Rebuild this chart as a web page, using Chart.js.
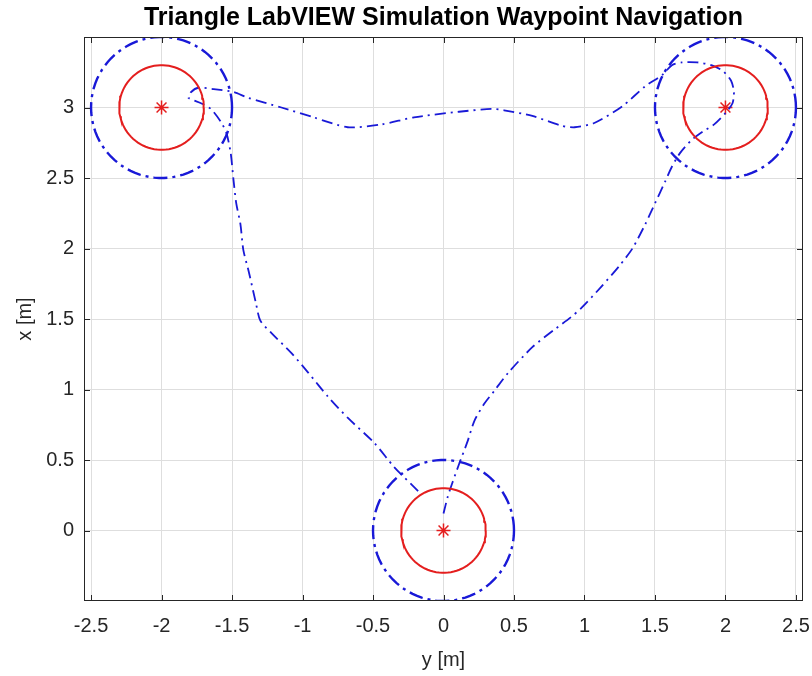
<!DOCTYPE html>
<html>
<head>
<meta charset="utf-8">
<title>Triangle LabVIEW Simulation Waypoint Navigation</title>
<script src="https://cdn.jsdelivr.net/npm/chart.js@4.4.1/dist/chart.umd.min.js"></script>
<style>
    body { margin: 0; background: #fff; }
    #wrap { width: 812px; height: 676px; }
</style>
</head>
<body>
<div id="wrap"><canvas id="navChart" width="812" height="676"></canvas></div>
<script>
// Waypoints (horizontal = y [m], vertical = x [m])
const waypointY = [-2, 2, 0];
const waypointX = [3, 3, 0];
const innerRadius = 0.3;   // red solid circle
const outerRadius = 0.5;   // blue dash-dot switching circle

// Robot trajectory
const pathY = [0.00, 0.03, 0.06, 0.11, 0.17, 0.22, 0.29, 0.36, 0.46, 0.63, 0.78, 0.90, 0.98, 1.12, 1.25, 1.34, 1.43, 1.50, 1.57, 1.62, 1.68, 1.76, 1.84, 1.92, 2.00, 2.05, 2.06, 2.04, 1.98, 1.90, 1.80, 1.69, 1.62, 1.55, 1.43, 1.27, 1.07, 0.93, 0.84, 0.63, 0.43, 0.34, 0.11, -0.21, -0.44, -0.68, -0.92, -1.15, -1.39, -1.49, -1.63, -1.74, -1.79, -1.81, -1.72, -1.65, -1.58, -1.54, -1.51, -1.49, -1.47, -1.44, -1.42, -1.38, -1.33, -1.30, -1.22, -1.08, -0.96, -0.82, -0.68, -0.49, -0.35, -0.18];
const pathX = [0.12, 0.24, 0.33, 0.47, 0.63, 0.78, 0.90, 0.99, 1.12, 1.30, 1.42, 1.51, 1.58, 1.73, 1.88, 2.00, 2.17, 2.32, 2.47, 2.58, 2.68, 2.77, 2.83, 2.88, 2.96, 3.03, 3.11, 3.19, 3.26, 3.30, 3.32, 3.32, 3.30, 3.23, 3.15, 3.01, 2.89, 2.86, 2.87, 2.94, 2.98, 2.99, 2.97, 2.93, 2.88, 2.86, 2.93, 3.00, 3.07, 3.11, 3.13, 3.14, 3.11, 3.07, 3.03, 2.99, 2.90, 2.82, 2.68, 2.49, 2.32, 2.17, 1.99, 1.83, 1.61, 1.49, 1.40, 1.26, 1.12, 0.95, 0.80, 0.62, 0.45, 0.28];

// Axis ticks
const yTicks = [-2.5, -2, -1.5, -1, -0.5, 0, 0.5, 1, 1.5, 2, 2.5];
const xTicks = [0, 0.5, 1, 1.5, 2, 2.5, 3];

const chartTitle = 'Triangle LabVIEW Simulation Waypoint Navigation';
const blue = 'rgb(25, 25, 215)';
const red = 'rgb(228, 30, 30)';
const textColor = '#262626';
const fontFamily = '"Liberation Sans", Arial, Helvetica, sans-serif';

function circlePoints(cy, cx, r) {
    const pts = [];
    for (let i = 0; i <= 90; i++) {
        const a = i / 90 * 2 * Math.PI;
        pts.push({ x: cy + r * Math.cos(a), y: cx + r * Math.sin(a) });
    }
    return pts;
}

const datasets = [];
waypointY.forEach(function (wy, i) {
    datasets.push({
        data: circlePoints(wy, waypointX[i], outerRadius),
        borderColor: blue,
        borderWidth: 2.4,
        borderDash: [14, 5, 3, 5],
        pointRadius: 0,
        showLine: true,
        fill: false
    });
    datasets.push({
        data: circlePoints(wy, waypointX[i], innerRadius),
        borderColor: red,
        borderWidth: 2,
        pointRadius: 0,
        showLine: true,
        fill: false
    });
});

datasets.push({
    data: pathY.map(function (v, i) { return { x: v, y: pathX[i] }; }),
    borderColor: blue,
    borderWidth: 1.8,
    borderDash: [11, 5, 2, 5],
    pointRadius: 0,
    showLine: true,
    tension: 0.25,
    fill: false
});

datasets.push({
    data: waypointY.map(function (v, i) { return { x: v, y: waypointX[i] }; }),
    pointStyle: 'star',
    pointRadius: 7,
    borderColor: red,
    backgroundColor: red,
    borderWidth: 1.5,
    showLine: false
});

// axes box with inward ticks, like MATLAB, and a title centred over the axes
const boxPlugin = {
    id: 'box',
    afterDraw: function (chart) {
        const ctx = chart.ctx;
        const a = chart.chartArea;
        const sx = chart.scales.x, sy = chart.scales.y;
        ctx.save();
        ctx.strokeStyle = textColor;
        ctx.lineWidth = 1;
        ctx.strokeRect(a.left + 0.5, a.top + 0.5, a.right - a.left - 1, a.bottom - a.top - 1);
        ctx.beginPath();
        yTicks.forEach(function (t) {
            const p = Math.round(sx.getPixelForValue(t)) + 0.5;
            ctx.moveTo(p, a.bottom); ctx.lineTo(p, a.bottom - 6);
            ctx.moveTo(p, a.top); ctx.lineTo(p, a.top + 6);
        });
        xTicks.forEach(function (t) {
            const p = Math.round(sy.getPixelForValue(t)) + 0.5;
            ctx.moveTo(a.left, p); ctx.lineTo(a.left + 6, p);
            ctx.moveTo(a.right, p); ctx.lineTo(a.right - 6, p);
        });
        ctx.stroke();

        ctx.fillStyle = '#000';
        ctx.font = 'bold 25px ' + fontFamily;
        ctx.textAlign = 'center';
        ctx.textBaseline = 'middle';
        ctx.fillText(chartTitle, (a.left + a.right) / 2, 18);
        ctx.restore();
    }
};

new Chart(document.getElementById('navChart'), {
    type: 'scatter',
    data: { datasets: datasets },
    plugins: [boxPlugin],
    options: {
        responsive: false,
        animation: false,
        layout: { padding: { left: 0, right: 9, top: 37, bottom: 2 } },
        plugins: {
            legend: { display: false },
            tooltip: { enabled: false },
            title: { display: false }
        },
        scales: {
            x: {
                type: 'linear',
                min: -2.55,
                max: 2.55,
                afterBuildTicks: function (s) { s.ticks = yTicks.map(function (v) { return { value: v }; }); },
                afterFit: function (s) { s.height = 73; s.paddingLeft = 0; s.paddingRight = 0; },
                ticks: {
                    color: textColor,
                    font: { family: fontFamily, size: 20 },
                    padding: 13,
                    maxRotation: 0,
                    callback: function (v) { return String(v); }
                },
                grid: { color: '#dedede', drawTicks: false },
                border: { display: false },
                title: {
                    display: true,
                    text: 'y [m]',
                    color: textColor,
                    font: { family: fontFamily, size: 20 },
                    padding: { top: 2, bottom: 2 }
                }
            },
            y: {
                type: 'linear',
                min: -0.5,
                max: 3.5,
                afterBuildTicks: function (s) { s.ticks = xTicks.map(function (v) { return { value: v }; }); },
                afterFit: function (s) { s.width = 84; },
                ticks: {
                    color: textColor,
                    font: { family: fontFamily, size: 20 },
                    padding: 10,
                    callback: function (v) { return String(v); }
                },
                grid: { color: '#dedede', drawTicks: false },
                border: { display: false },
                title: {
                    display: true,
                    text: 'x [m]',
                    color: textColor,
                    font: { family: fontFamily, size: 20 },
                    padding: { top: 13, bottom: 2 }
                }
            }
        }
    }
});
</script>
</body>
</html>
